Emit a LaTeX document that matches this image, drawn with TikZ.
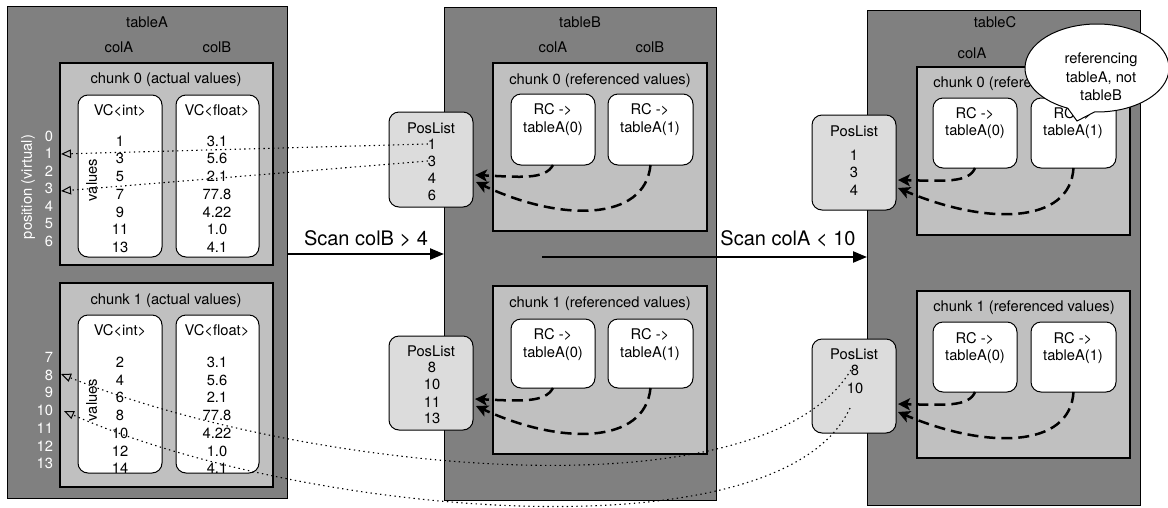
\documentclass[tikz,border=0pt]{standalone}
\usepackage{fontspec}
\setmainfont{TeX Gyre Heros}
\usetikzlibrary{arrows.meta,shapes.callouts,shapes.geometric,calc}
\newcommand\fmain{\fontsize{14.7}{17.5}\selectfont}
\newcommand\fscan{\fontsize{20}{24}\selectfont}
\definecolor{tabgray}{HTML}{808080}
\definecolor{chunkgray}{HTML}{C0C0C0}
\definecolor{posgray}{HTML}{DCDCDC}
\begin{document}
\begin{tikzpicture}[x=1pt,y=-1pt,
  every node/.style={inner sep=0pt, outer sep=0pt},
  tablebox/.style={draw=black, line width=1pt, fill=tabgray, anchor=north west},
  chunkbox/.style={draw=black, line width=1.1pt, fill=chunkgray, anchor=north west},
  colbox/.style={draw=black, line width=1pt, fill=white, rounded corners=10pt, anchor=north west},
  posbox/.style={draw=black, line width=1pt, fill=posgray, rounded corners=10pt, anchor=north west},
  txt/.style={font=\fmain, anchor=center, text height=10.5pt, text depth=0pt},
  postxt/.style={txt, anchor=east, text=white},
  scantxt/.style={font=\fscan, anchor=center, text height=14.3pt, text depth=0pt},
  dotline/.style={line width=1.1pt, dash pattern=on 1.4pt off 3.4pt, -{Triangle[open, length=10pt, width=8.5pt, line width=1pt]}},
  dasharrow/.style={line width=2.5pt, dash pattern=on 11pt off 6pt, -{Stealth[length=12pt, width=12pt, inset=3pt]}},
  scanarrow/.style={line width=2.3pt, -{Triangle[length=14pt, width=11pt]}}
]
\useasboundingbox (0,0) rectangle (1168,507);

% ---------- tables ----------
\node[tablebox, minimum width=280pt, minimum height=492pt] (tA) at (7,6) {};
\node[tablebox, minimum width=272pt, minimum height=493pt] (tB) at (444,7) {};
\node[tablebox, minimum width=273pt, minimum height=495pt] (tC) at (867,10) {};

\node[txt] (tAt) at (147,22) {tableA};
\node[txt] (tAca) at (119,47) {colA};
\node[txt] (tAcb) at (217,47) {colB};
\node[txt] (tBt) at (580,22) {tableB};
\node[txt] (tBca) at (553,47) {colA};
\node[txt] (tBcb) at (650,47) {colB};
\node[txt] (tCt) at (995,22) {tableC};
\node[txt] (tCca) at (972,53) {colA};

% ---------- chunks ----------
\node[chunkbox, minimum width=213pt, minimum height=202pt] (cA0) at (60,63) {};
\node[chunkbox, minimum width=213pt, minimum height=204pt] (cA1) at (60,283) {};
\node[chunkbox, minimum width=214pt, minimum height=168pt] (cB0) at (493,63) {};
\node[chunkbox, minimum width=214pt, minimum height=168pt] (cB1) at (493,286) {};
\node[chunkbox, minimum width=213pt, minimum height=168pt] (cC0) at (917,67) {};
\node[chunkbox, minimum width=213pt, minimum height=167pt] (cC1) at (917,291) {};

\node[txt] (cA0t) at (166,78) {chunk 0 (actual values)};
\node[txt] (cA1t) at (166,299) {chunk 1 (actual values)};
\node[txt] (cB0t) at (600,79) {chunk 0 (referenced values)};
\node[txt] (cB1t) at (600,302) {chunk 1 (referenced values)};
\node[txt] (cC0t) at (1024,82) {chunk 0 (referenced values)};
\node[txt] (cC1t) at (1024,306) {chunk 1 (referenced values)};

% ---------- value columns of tableA ----------
\node[colbox, minimum width=84pt, minimum height=162pt] (vA0i) at (78,95) {};
\node[colbox, minimum width=83pt, minimum height=162pt] (vA0f) at (176,95) {};
\node[colbox, minimum width=84pt, minimum height=158pt] (vA1i) at (78,315) {};
\node[colbox, minimum width=83pt, minimum height=158pt] (vA1f) at (176,315) {};

\node[txt] (vA0ih) at (120,110) {VC<int>};
\node[txt] (vA0fh) at (217,110) {VC<float>};
\node[txt] (vA1ih) at (120,330) {VC<int>};
\node[txt] (vA1fh) at (217,330) {VC<float>};

\foreach \v [count=\i from 0] in {1,3,5,7,9,11,13}
  \node[txt] (a0i\i) at (120,{141+17.7*\i}) {\v};
\foreach \v [count=\i from 0] in {3.1,5.6,2.1,77.8,4.22,1.0,4.1}
  \node[txt] (a0f\i) at (217,{141+17.7*\i}) {\v};
\foreach \v [count=\i from 0] in {2,4,6,8,10,12,14}
  \node[txt] (a1i\i) at (120,{362+17.75*\i}) {\v};
\foreach \v [count=\i from 0] in {3.1,5.6,2.1,77.8,4.22,1.0,4.1}
  \node[txt] (a1f\i) at (217,{362+17.75*\i}) {\v};

\foreach \i in {0,...,6}
  \node[postxt] (pos\i) at (53,{136+17.5*\i}) {\i};
\foreach \i [evaluate=\i as \k using int(\i+7)] in {0,...,6}
  \node[postxt] (pos\k) at (53,{357+17.75*\i}) {\k};

\node[txt, text=white, rotate=90, text depth=3pt] (posv) at (28,187) {position (virtual)};
\node[txt, rotate=90, text depth=3pt] (valA0) at (93,180) {values};
\node[txt, rotate=90, text depth=3pt] (valA1) at (93,400) {values};

% ---------- reference columns ----------
\node[colbox, minimum width=84pt, minimum height=71pt] (rB0a) at (511,94) {};
\node[colbox, minimum width=85pt, minimum height=71pt] (rB0b) at (608,94) {};
\node[colbox, minimum width=84pt, minimum height=69pt] (rB1a) at (511,319) {};
\node[colbox, minimum width=85pt, minimum height=69pt] (rB1b) at (608,319) {};
\node[colbox, minimum width=84pt, minimum height=70pt] (rC0a) at (933,98) {};
\node[colbox, minimum width=85pt, minimum height=70pt] (rC0b) at (1031,98) {};
\node[colbox, minimum width=84pt, minimum height=70pt] (rC1a) at (933,322) {};
\node[colbox, minimum width=85pt, minimum height=70pt] (rC1b) at (1031,322) {};

\foreach \n/\x/\ya/\yb/\c in {B0a/553/109/127/0, B0b/650/109/127/1, B1a/553/334/352/0, B1b/650/334/352/1,
                              C0a/975/113/130/0, C0b/1073/113/130/1, C1a/975/338/355/0, C1b/1073/338/355/1} {
  \node[txt] (r\n t1) at (\x,\ya) {RC ->};
  \node[txt] (r\n t2) at (\x,\yb) {tableA(\c)};
}

% ---------- position lists ----------
\node[posbox, minimum width=84pt, minimum height=95pt] (pB0) at (389,112) {};
\node[posbox, minimum width=84pt, minimum height=94pt] (pB1) at (389,336) {};
\node[posbox, minimum width=84pt, minimum height=95pt] (pC0) at (812,115) {};
\node[posbox, minimum width=84pt, minimum height=94pt] (pC1) at (812,339) {};

\node[txt] (pB0t) at (431,128) {PosList};
\node[txt] (pB0n1) at (432,144) {1};
\node[txt] (pB0n3) at (432,161) {3};
\node[txt] (pB0n4) at (432,178) {4};
\node[txt] (pB0n6) at (432,195) {6};

\node[txt] (pB1t) at (431,351) {PosList};
\node[txt] (pB1n8) at (432,367) {8};
\node[txt] (pB1n10) at (432,384) {10};
\node[txt] (pB1n11) at (432,402) {11};
\node[txt] (pB1n13) at (432,418) {13};

\node[txt] (pC0t) at (854,131) {PosList};
\node[txt] (pC0n1) at (854,155) {1};
\node[txt] (pC0n3) at (854,172) {3};
\node[txt] (pC0n4) at (854,190) {4};

\node[txt] (pC1t) at (854,354) {PosList};
\node[txt] (pC1n8) at (855,370) {8};
\node[txt] (pC1n10) at (855,388) {10};

% ---------- scan arrows ----------
\coordinate (s1) at (287,254);
\coordinate (s2) at (542,257);
\draw[scanarrow] (s1) -- (s1 -| tB.west);
\draw[scanarrow] (s2) -- (s2 -| tC.west);
\node[scantxt] (scan1) at (366,238) {Scan colB > 4};
\node[scantxt] (scan2) at (788,238) {Scan colA < 10};

% ---------- dotted position references ----------
\coordinate (tip1) at (61,154);
\coordinate (tip3) at (61,191);
\coordinate (tip8) at (61,374);
\coordinate (tip10) at (64,411);
\coordinate (c10s) at (850,408);
\draw[dotline] (pB0n1.west) -- (tip1);
\draw[dotline] (pB0n3.west) -- (tip3);
\draw[dotline] (pC1n8.west) .. controls (760,520) and (300,470) .. (tip8);
\draw[dotline] (c10s) .. controls (780,560) and (300,515) .. (tip10);

% ---------- dashed arrows RC -> PosList ----------
\coordinate (bB0a) at (475,175);
\coordinate (bB0b) at (476,182);
\coordinate (bB1a) at (475,399);
\coordinate (bB1b) at (476,406);
\coordinate (bC0a) at (898,180);
\coordinate (bC0b) at (898,188);
\coordinate (bC1a) at (898,404);
\coordinate (bC1b) at (898,412);
\draw[dasharrow] (rB0a.south) .. controls (545,180) and (520,177) .. (bB0a);
\draw[dasharrow] (rB0b.south) .. controls (645,222) and (560,222) .. (bB0b);
\draw[dasharrow] (rB1a.south) .. controls (545,403) and (520,401) .. (bB1a);
\draw[dasharrow] (rB1b.south) .. controls (645,445) and (560,445) .. (bB1b);
\draw[dasharrow] (rC0a.south) .. controls (969,183) and (944,181) .. (bC0a);
\draw[dasharrow] (rC0b.south) .. controls (1070,225) and (985,225) .. (bC0b);
\draw[dasharrow] (rC1a.south) .. controls (969,407) and (944,405) .. (bC1a);
\draw[dasharrow] (rC1b.south) .. controls (1070,449) and (985,449) .. (bC1b);

% ---------- callout ----------
\node[draw=black, fill=white, line width=1pt, ellipse callout, minimum width=144pt, minimum height=88pt,
      callout absolute pointer={(1077,121)}, callout pointer arc=22] (callout) at (1097,68) {};
\node[font=\fontsize{14.7}{18.5}\selectfont, align=center, anchor=center] (callt) at (1101,77)
  {referencing\\tableA, not\\tableB};
\end{tikzpicture}
\end{document}
